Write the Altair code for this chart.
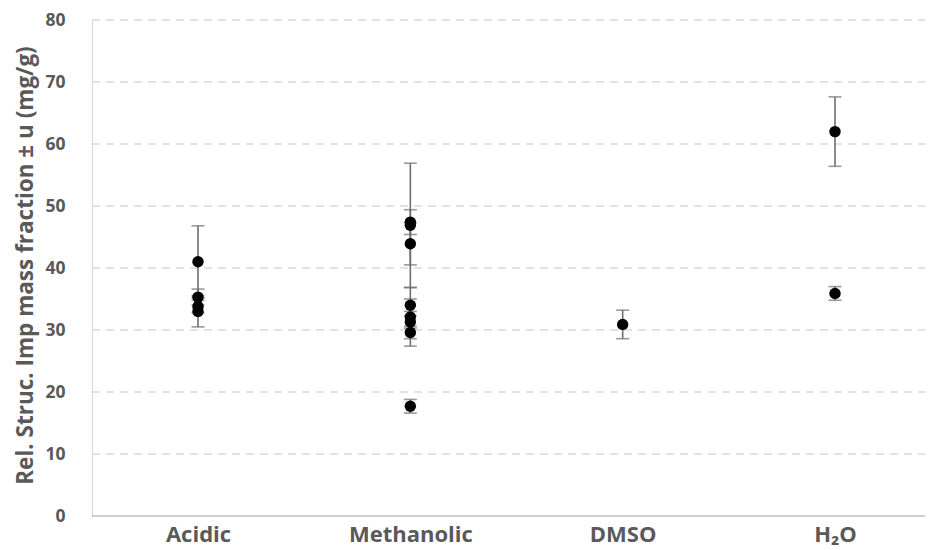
import altair as alt
import pandas as pd

categories = ["Acidic", "Methanolic", "DMSO", "H₂O"]

acidic_vals = [41.0, 35.3, 33.8, 33.0]
acidic_err = [5.8, 1.3, 1.0, 2.5]
methanolic_vals = [47.4, 46.9, 43.9, 34.0, 32.1, 31.3, 29.6, 17.7]
methanolic_err = [2.0, 10.0, 3.4, 1.0, 4.7, 1.0, 1.0, 1.1]
dmso_vals = [30.9]
dmso_err = [2.3]
h2o_vals = [62.0, 35.9]
h2o_err = [5.6, 1.1]

y_ticks = [0, 10, 20, 30, 40, 50, 60, 70, 80]

rows = []
for cat, vals, errs in zip(categories,
                           [acidic_vals, methanolic_vals, dmso_vals, h2o_vals],
                           [acidic_err, methanolic_err, dmso_err, h2o_err]):
    for v, e in zip(vals, errs):
        rows.append({"cat": cat, "value": v, "lo": v - e, "hi": v + e})
df = pd.DataFrame(rows)
grid_df = pd.DataFrame({"g": [t for t in y_ticks if t > 0]})
base_df = pd.DataFrame({"g": [0]})

FONT = "Open Sans"
TXT = "#595959"
W, H = 833, 496

x_enc = alt.X("cat:N", sort=categories,
              scale=alt.Scale(type="point", range=[106, 743], padding=0),
              axis=alt.Axis(title=None, labelAngle=0, labelFont=FONT, labelFontSize=22,
                            labelFontWeight="bold", labelColor=TXT, labelPadding=8,
                            ticks=False, domain=False, grid=False))
y_scale = alt.Scale(domain=[0, 80], nice=False, zero=True)

grid = alt.Chart(grid_df).mark_rule(color="#d9d9d9", strokeWidth=1.5, strokeDash=[8, 6]).encode(
    y=alt.Y("g:Q", scale=y_scale), x=alt.value(0), x2=alt.value(W))
baseline = alt.Chart(base_df).mark_rule(color="#bfbfbf", strokeWidth=1.5).encode(
    y=alt.Y("g:Q", scale=y_scale), x=alt.value(0), x2=alt.value(W))

base = alt.Chart(df)

rules = base.mark_rule(color="#6e6e6e", strokeWidth=1.6).encode(
    x=x_enc,
    y=alt.Y("lo:Q", scale=y_scale,
            axis=alt.Axis(title="Rel. Struc. Imp mass fraction ± u (mg/g)",
                          values=y_ticks, labelFont=FONT, labelFontSize=17.5,
                          labelFontWeight="bold", labelColor=TXT, labelPadding=27,
                          ticks=False, domainColor="#d9d9d9", domainWidth=1.2,
                          grid=False,
                          titleFont=FONT, titleFontSize=22.5, titleFontWeight="bold",
                          titleColor=TXT, titleX=-67, titleY=245,
                          titleAlign="center", titleBaseline="middle", titleAngle=-90)),
    y2="hi:Q",
)
caps_lo = base.mark_tick(color="#6e6e6e", size=13, thickness=1.6).encode(
    x=alt.X("cat:N", sort=categories), y=alt.Y("lo:Q", scale=y_scale))
caps_hi = base.mark_tick(color="#6e6e6e", size=13, thickness=1.6).encode(
    x=alt.X("cat:N", sort=categories), y=alt.Y("hi:Q", scale=y_scale))
points = base.mark_circle(color="black", opacity=1, size=130).encode(
    x=alt.X("cat:N", sort=categories), y=alt.Y("value:Q", scale=y_scale))

chart = (grid + baseline + rules + caps_lo + caps_hi + points).properties(
    width=W, height=H,
    autosize=alt.AutoSizeParams(type="none"),
    padding={"left": 84, "top": 12, "right": 0, "bottom": 34},
).configure_view(stroke=None)

chart.save("out.html", embed_options={"renderer": "svg", "actions": False})
